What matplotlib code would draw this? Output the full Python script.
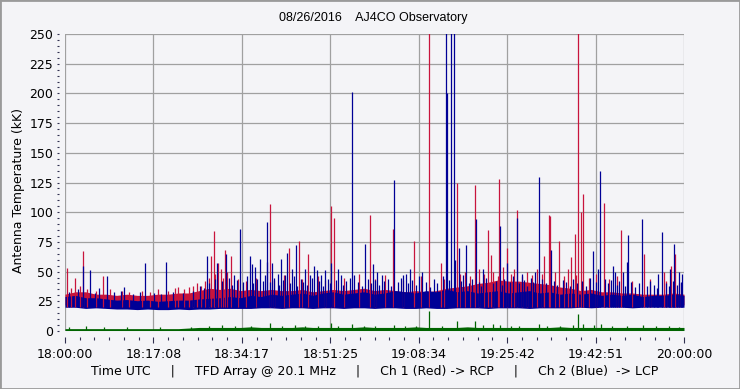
import numpy as np
import matplotlib
matplotlib.use("Agg")
import matplotlib.pyplot as plt
from matplotlib.ticker import AutoMinorLocator, MultipleLocator
from matplotlib.patches import Rectangle

# time axis in minutes after 18:00:00 UTC
tick_labels = ["18:00:00", "18:17:08", "18:34:17", "18:51:25",
               "19:08:34", "19:25:42", "19:42:51", "20:00:00"]

# band (dense noise) envelope, read every 2 minutes
band_t = list(range(0, 121, 2))
blue_lo = [20, 20, 19, 19.5, 19, 18.5, 18.5, 18, 18.5, 18, 18, 18.5, 18, 18.5, 18.5, 19,
           19, 19, 19, 19.5, 19.5, 19, 19.5, 19.5, 19, 19.5, 19.5, 19, 19.5, 19.5, 19,
           19.5, 19.5, 19, 19, 19.5, 19, 19, 19.5, 19.5, 19.5, 19, 19.5, 19.5, 19.5, 19,
           19.5, 19.5, 19.5, 19.5, 20, 19.5, 20, 20, 20, 19.5, 20, 20, 20, 20, 20]
blue_hi = [29, 30, 28, 28, 27, 26, 26.5, 25.5, 26, 25, 25.5, 26, 26, 27, 27.5, 28,
           29, 28, 30, 29, 31, 30, 31, 32, 30, 32, 33, 31, 32, 33, 31,
           32, 34, 33, 32, 34, 33, 35, 33, 34, 32, 33, 34, 32, 33, 34,
           32, 33, 31, 32, 31, 32, 30, 31, 30, 31, 29, 30, 30, 31, 30]
red_hi = [31, 33, 33, 31, 31, 30, 31, 30, 30, 31, 31, 32, 32, 34, 36, 35,
          36, 34, 35, 34, 35, 34, 34, 35, 33, 34, 35, 34, 35, 36, 34,
          35, 34, 33, 34, 33, 34, 36, 37, 38, 40, 41, 43, 42, 42, 41,
          40, 39, 37, 36, 34, 35, 33, 33, 32, 32, 31, 31, 31, 32, 31]
green_hi = [2, 2, 2, 2, 2, 2, 2, 2, 2, 2, 2, 2, 2.5, 3, 3, 3,
            3, 3, 3.5, 3, 3, 3, 3, 3.5, 3, 3, 3, 3, 3, 3.5, 3,
            3, 3, 3, 3.5, 3, 3, 3, 3, 3.5, 3, 3, 3, 3, 3, 3,
            3, 3, 3.5, 3, 3, 3, 3, 3, 3, 3, 3, 3, 3, 3, 3]

# Ch 1 (red) spikes: minute, kK
red_t = [0.45, 1.94, 3.55, 7.43, 21.97, 24.1, 28.4, 28.9, 29.7, 30.2, 31.0, 32.2, 39.8, 43.5,
         45.4, 47.2, 51.6, 52.2, 59.1, 63.6, 67.7, 70.5, 72.8, 75.9, 79.5, 82.1, 82.6, 84.2,
         85.6, 87.7, 92.9, 93.9, 94.1, 95.8, 98.1, 98.9, 99.5, 100.0, 100.5, 104.4, 107.8,
         112.3, 116.2, 117.4, 118.3]
red_v = [53, 45, 67, 46, 37, 37, 63, 84, 57, 52, 68, 63, 107, 70,
         76, 65, 105, 95, 98, 86, 76, 320, 57, 125, 123, 85, 64, 128,
         70, 102, 63, 98, 97, 76, 62, 82, 320, 100, 115, 108, 85,
         65, 50, 55, 65]
red_small_t = [1.2, 3.0, 4.3, 6.0, 8.8, 11.0, 12.5, 15.0, 16.5, 18.0, 20.0, 21.3, 23.0, 24.8,
               25.5, 26.3, 27.2, 27.9, 29.0, 30.6, 31.5, 33.5, 35.0, 37.0, 40.5, 42.5, 46.0,
               49.0, 50.5, 54.0, 57.0, 60.0, 62.0, 65.5, 69.0, 73.5, 76.5, 77.5, 78.5, 80.3,
               81.3, 83.0, 84.0, 85.0, 86.5, 87.0, 88.5, 89.5, 90.5, 91.5, 92.5, 95.0, 96.8,
               97.5, 99.0, 101.5, 103.0, 105.5, 107.0, 110.0, 113.5, 116.5, 119.0]
red_small_v = [36, 38, 35, 34, 35, 34, 33, 34, 33, 35, 34, 36, 35, 38,
               40, 38, 42, 45, 48, 45, 50, 44, 42, 45, 43, 47, 44,
               46, 43, 45, 48, 44, 47, 43, 46, 44, 48, 50, 46, 52,
               48, 50, 46, 54, 48, 52, 46, 50, 47, 52, 48, 50, 46,
               52, 47, 45, 48, 44, 46, 42, 44, 42, 40]

# Ch 2 (blue) spikes
blue_t = [3.55, 4.9, 8.2, 11.5, 15.6, 19.6, 27.6, 29.4, 31.3, 32.8, 34.0, 35.9, 36.2, 36.8,
          37.8, 39.1, 39.2, 40.2, 41.2, 41.8, 42.7, 43.1, 44.0, 44.8, 46.5, 47.5, 48.3, 48.9,
          49.7, 50.5, 51.6, 52.9, 53.5, 55.7, 56.1, 58.2, 59.8, 60.5, 61.4, 63.8, 65.6, 66.1,
          66.9, 69.3, 73.9, 74.1, 74.9, 75.5, 75.6, 76.3, 77.7, 79.7, 81.1, 84.3, 85.7, 87.7,
          88.5, 91.1, 91.8, 94.2, 102.4, 103.3, 103.8, 106.3, 106.6, 108.2, 109.0, 109.2,
          111.9, 115.0, 115.8, 117.3, 118.1, 119.1, 119.6]
blue_v = [55, 51, 46, 37, 57, 58, 63, 57, 65, 47, 86, 63, 56, 54,
          61, 58, 92, 57, 48, 61, 47, 66, 52, 72, 52, 47, 55, 51,
          47, 51, 57, 52, 47, 201, 47, 73, 56, 50, 47, 127, 47, 48,
          52, 50, 320, 200, 320, 320, 60, 70, 72, 94, 52, 88, 57, 95,
          48, 50, 130, 68, 67, 52, 135, 55, 50, 50, 58, 81,
          94, 48, 83, 52, 73, 50, 48]
blue_small_t = [0.8, 2.5, 5.8, 6.6, 9.5, 10.8, 13.2, 14.5, 17.3, 18.6, 21.0, 22.8, 24.9, 26.1,
                27.0, 28.0, 29.0, 30.4, 31.8, 32.4, 33.3, 34.6, 35.3, 36.5, 37.3, 38.4, 38.8,
                39.7, 40.6, 41.5, 42.2, 43.6, 44.4, 45.0, 45.8, 46.2, 47.0, 47.8, 49.2, 50.0,
                50.9, 51.3, 52.5, 53.9, 54.5, 55.2, 56.8, 57.5, 58.7, 59.3, 60.0, 60.9, 61.8,
                62.6, 63.2, 64.5, 65.1, 66.5, 67.3, 68.0, 68.6, 69.9, 70.8, 71.5, 72.2, 73.2,
                74.5, 76.8, 77.2, 78.3, 78.9, 80.2, 80.7, 81.6, 82.9, 83.6, 84.8, 85.2, 86.3,
                86.9, 88.1, 89.0, 89.6, 90.3, 90.8, 92.4, 93.2, 94.8, 95.4, 96.5, 97.2, 97.9,
                98.5, 99.2, 100.3, 101.0, 101.7, 102.9, 104.6, 105.2, 105.8, 107.0, 107.4,
                108.6, 109.8, 110.5, 111.2, 112.8, 113.5, 114.2, 114.7, 116.6, 117.0, 117.8,
                118.6, 119.4]
blue_small_v = [33, 35, 32, 36, 33, 34, 31, 33, 32, 31, 33, 32, 34, 38,
                36, 40, 44, 42, 45, 39, 43, 41, 46, 40, 44, 42, 47,
                41, 45, 39, 43, 40, 46, 38, 44, 41, 39, 45, 42, 38,
                44, 40, 43, 39, 42, 45, 41, 38, 44, 40, 43, 39, 42,
                44, 38, 41, 45, 40, 43, 39, 46, 41, 37, 44, 40, 46,
                43, 42, 47, 40, 44, 41, 38, 45, 40, 42, 39, 44, 41,
                46, 40, 43, 38, 45, 41, 44, 40, 42, 39, 43, 41, 38,
                44, 40, 42, 38, 45, 41, 44, 40, 43, 39, 42,
                38, 41, 37, 40, 38, 42, 39, 36, 40, 38, 42,
                39, 41]

# green trace spikes
green_t = [0.8, 4.0, 7.5, 12.0, 18.5, 24.5, 28.0, 30.5, 33.0, 36.0, 39.8, 42.0, 44.5, 46.5,
           49.0, 51.6, 53.0, 55.7, 58.0, 60.0, 63.8, 66.0, 68.0, 70.5, 73.0, 75.9, 79.5, 81.0,
           83.0, 84.3, 86.5, 88.0, 91.9, 93.5, 96.0, 98.5, 99.5, 100.5, 102.5, 104.0, 106.0,
           109.0, 112.1, 114.5, 117.0, 119.0]
green_v = [3, 4, 3, 3.5, 3, 3.5, 4, 5, 4, 4, 6.5, 4.5, 5, 4,
           4.5, 7, 4.5, 5.5, 4, 4.5, 5, 4.5, 4, 16.5, 4.5, 8.8, 8, 5,
           6, 5, 4.5, 4, 6, 4.5, 4, 5, 14, 6, 5, 6, 4,
           4.5, 5, 4, 4, 3.5]

RED = "#c8143c"
BLUE = "#000096"
GREEN = "#006400"
GRID = "#a0a0a0"
BG = "#f4f4f7"

plt.rcParams["font.family"] = "DejaVu Sans"
fig = plt.figure(figsize=(7.4, 3.89), dpi=100, facecolor=BG)
ax = fig.add_axes([65 / 740, 58 / 389, 619 / 740, 297 / 389])
ax.set_facecolor(BG)

lw = 0.9
ax.fill_between(band_t, np.array(blue_lo) + 2, red_hi, color=RED, lw=0)
ax.vlines(red_small_t, 20, red_small_v, color=RED, lw=lw)
ax.vlines(red_t, 20, red_v, color=RED, lw=lw)
ax.fill_between(band_t, blue_lo, blue_hi, color=BLUE, lw=0)
ax.vlines(blue_small_t, 20, blue_small_v, color=BLUE, lw=lw)
ax.vlines(blue_t, 20, blue_v, color=BLUE, lw=lw)
ax.fill_between(band_t, 0.4, green_hi, color=GREEN, lw=0)
ax.vlines(green_t, 0.5, green_v, color=GREEN, lw=lw)

ax.set_xlim(0, 120)
ax.set_ylim(0, 250)
ax.set_xticks(np.linspace(0, 120, 8))
ax.set_xticklabels(tick_labels)
ax.xaxis.set_minor_locator(AutoMinorLocator(6))
ax.yaxis.set_major_locator(MultipleLocator(25))
ax.yaxis.set_minor_locator(MultipleLocator(5))

ax.set_axisbelow(True)
ax.grid(True, which="major", color=GRID, lw=0.9)
for s in ax.spines.values():
    s.set_edgecolor("none")
ax.spines["left"].set_position(("outward", 4))
ax.spines["bottom"].set_position(("outward", 4.5))
ax.tick_params(axis="x", which="major", length=4.3, width=0.8, color="#303050",
               labelsize=9, pad=3.5)
ax.tick_params(axis="x", which="minor", length=2.5, width=0.8, color="#303050")
ax.tick_params(axis="y", which="both", length=1.6, width=0.8, color="#303050",
               labelsize=9, pad=3)

fig.text(0.505, 0.954, "08/26/2016    AJ4CO Observatory", ha="center", va="center",
         fontsize=9, family="Liberation Sans")
fig.text(0.506, 0.044,
         "Time UTC     |     TFD Array @ 20.1 MHz     |     Ch 1 (Red) -> RCP     |     Ch 2 (Blue)  -> LCP",
         ha="center", va="center", fontsize=9)
fig.text(19 / 740, 0.51, "Antenna Temperature (kK)", rotation=90, ha="center",
         va="center", fontsize=9)

fig.patches.append(Rectangle((0, 0), 1, 1, transform=fig.transFigure, fill=False,
                             edgecolor="#9a9a9a", lw=2))

fig.savefig("out.png", dpi=100, facecolor=BG)
